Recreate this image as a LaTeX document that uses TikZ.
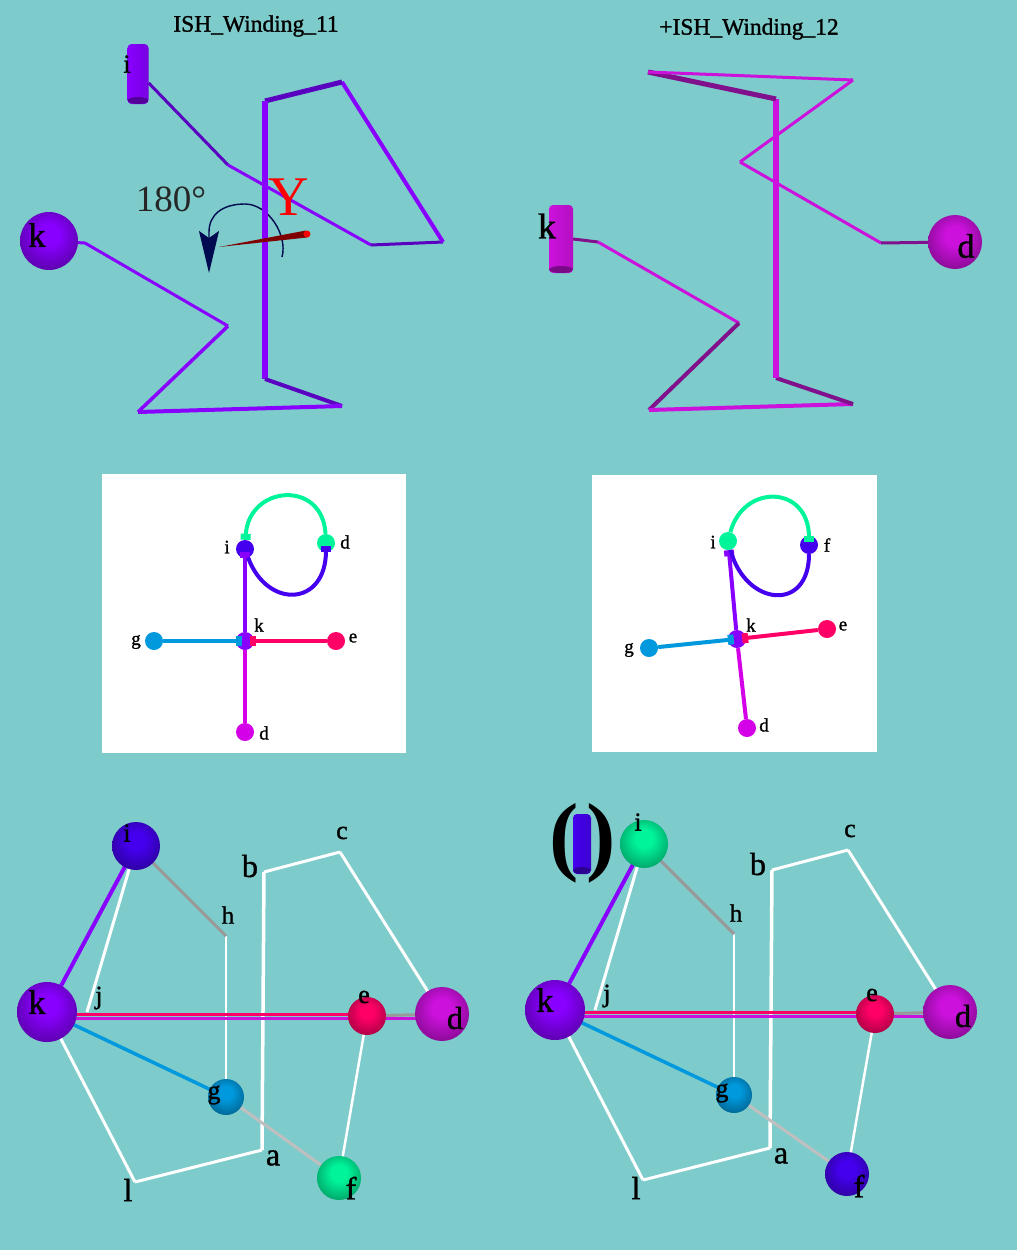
\documentclass[tikz,border=0pt]{standalone}
\usepackage{fontspec}
\setmainfont{Liberation Serif}
\newfontfamily\heavyfont[FakeBold=1.2]{Liberation Serif}
\usetikzlibrary{arrows.meta}

\definecolor{bgteal}{HTML}{7ECBCB}
\definecolor{cpurple}{HTML}{8800FF}
\definecolor{cpurpled}{HTML}{5A00C0}
\definecolor{cmagenta}{HTML}{CC11DD}
\definecolor{cmagentad}{HTML}{80108C}
\definecolor{cviolet}{HTML}{D400E8}
\definecolor{cblue}{HTML}{4400EE}
\definecolor{cgreen}{HTML}{00F59A}
\definecolor{cpink}{HTML}{FF0066}
\definecolor{csky}{HTML}{0099DD}
\definecolor{cnavy}{HTML}{000A50}

\pgfdeclarelayer{base}
\pgfdeclarelayer{wires}
\pgfsetlayers{base,wires,main}

\colorlet{sphcol}{white}
\pgfdeclareradialshading[sphcol]{sphshade}{\pgfpoint{0bp}{7bp}}{
  color(0bp)=(sphcol); color(9bp)=(sphcol);
  color(30bp)=(sphcol!66!black); color(50bp)=(sphcol!66!black)}

\tikzset{
  lab/.style={font=\heavyfont\fontsize{#1}{#1}\selectfont,inner sep=0pt},
  plainlab/.style={font=\fontsize{#1}{#1}\selectfont,inner sep=0pt},
  sph/.style={circle,inner sep=0pt,/utils/exec={\colorlet{sphcol}{#1}},shading=sphshade},
  dot/.style={circle,inner sep=0pt,minimum size=18pt,fill=#1},
  cyl/.style 2 args={rectangle,inner sep=0pt,rounded corners=4pt,minimum width=#2,
    left color=#1,right color=#1!88!black,
    path picture={\fill[#1!60!black] ([yshift=3.5pt]path picture bounding box.south)
      ellipse [x radius=#2/2,y radius=3.5pt];}},
  tip/.style={-{Rectangle[length=6pt,width=10pt]}},
  wire/.style={line width=#1,line join=round},
  wire/.default=3pt
}

\begin{document}
\begin{tikzpicture}[x=1pt,y=-1pt]
  \useasboundingbox (0,0) rectangle (1017,1250);
  \begin{pgfonlayer}{base}
    \fill[bgteal] (0,0) rectangle (1017,1250);
  \end{pgfonlayer}

  % top windings
  \node[lab=23.5] (title1) at (256,26) {ISH\_Winding\_11};
  \node[lab=23.5] (title2) at (749,29) {+ISH\_Winding\_12};

  \coordinate (rotS) at (282,257);
  \coordinate (rotE) at (209,273);
  \draw[cnavy,line width=1.4pt,-{Stealth[length=42pt,width=20pt,inset=7pt]}]
    (rotS) .. controls (288,235) and (268,204) .. (245,204)
    .. controls (222,204) and (209,215) .. (209,232) -- (rotE);

  \node[cyl={cpurple}{21pt},minimum height=60pt] (wi) at (138,74) {};
  \node[sph=cpurple,minimum size=58pt] (wk) at (49,241) {};
  \coordinate (a1) at (228,165);
  \coordinate (a2) at (371,245);
  \coordinate (a3) at (443,242);
  \coordinate (a4) at (342,82);
  \coordinate (a5) at (265,101);
  \coordinate (a6) at (265,379);
  \coordinate (a7) at (342,406);
  \coordinate (a8) at (138,412);
  \coordinate (a9) at (228,326);
  \coordinate (a10) at (85,243);
  \path[draw=cpurple,wire]
    ([yshift=-9pt]wi.east) edge[draw=cpurpled] (a1)
    (a1) edge (a2)
    (a2) edge[draw=cpurpled] (a3)
    (a3) edge[wire=4pt] (a4)
    (a4) edge[draw=cpurpled,wire=5pt] (a5)
    (a5) edge[wire=5.5pt] (a6)
    (a6) edge[draw=cpurpled,wire=4pt] (a7)
    (a7) edge[wire=4pt] (a8)
    (a8) edge[wire=3.5pt] (a9)
    (a9) edge (a10)
    (a10) edge (wk);

  \fill[red!50!black] (219,247) -- (306,230.5) -- (307,237.5) -- cycle;
  \node[circle,fill=red,inner sep=0pt,minimum size=7pt] (axisend) at (307,234) {};
  \node[plainlab=56,text=red] (ylab) at (289,197) {Y};
  \node[plainlab=37,text=black!85] (angle) at (171,199) {180°};
  \node[lab=26] (wilab) at (127,64) {i};
  \node[lab=34] (wklab) at (37,235) {k};

  \node[cyl={cmagenta}{24pt},minimum height=68pt] (vk) at (561,239) {};
  \node[sph=cmagenta,minimum size=54pt] (vd) at (955,242) {};
  \coordinate (b0) at (598,242);
  \coordinate (b1) at (739,323);
  \coordinate (b2) at (649,410);
  \coordinate (b3) at (853,404);
  \coordinate (b4) at (776,378);
  \coordinate (b5) at (776,99);
  \coordinate (b6) at (648,72);
  \coordinate (b7) at (853,80);
  \coordinate (b8) at (740,162);
  \coordinate (b9) at (881,243);
  \path[draw=cmagenta,wire]
    (vk.east) edge[draw=cmagentad] (b0)
    (b0) edge (b1)
    (b1) edge[draw=cmagentad,wire=4pt] (b2)
    (b2) edge[wire=4pt] (b3)
    (b3) edge[draw=cmagentad,wire=4pt] (b4)
    (b4) edge[wire=5.5pt] (b5)
    (b5) edge[draw=cmagentad,wire=5pt] (b6)
    (b6) edge (b7)
    (b7) edge (b8)
    (b8) edge (b9)
    (b9) edge[draw=cmagentad] (vd);
  \node[lab=36] (vklab) at (547,226) {k};
  \node[lab=34] (vdlab) at (966,246) {d};

  % flat panels
  \fill[white] (102,474) rectangle (406,753);
  \fill[white] (592,475) rectangle (877,752);

  \node[dot=cblue] (pi) at (245,549) {};
  \node[dot=cgreen] (pd1) at (326,543) {};
  \node[dot=cpurple] (pk) at (245,641) {};
  \node[dot=csky] (pg) at (154,641) {};
  \node[dot=cpink] (pe) at (336,641) {};
  \node[dot=cviolet] (pd2) at (245,732) {};
  \path[wire=4pt]
    (pk) edge[draw=cpurple,tip,shorten >=-6pt] (pi)
    (pk) edge[draw=cviolet] (pd2)
    (pe) edge[draw=cpink,tip,shorten >=-4pt] (pk)
    (pg) edge[draw=csky,tip,shorten >=-6pt] (pk)
    (pd1) edge[draw=cgreen,tip,out=93,in=87,looseness=1.75] (pi)
    (pi) edge[draw=cblue,tip,out=-70,in=-90,looseness=1.8,shorten >=-6pt] (pd1);
  \node[lab=19] (tpi) at (227,547) {i};
  \node[lab=19] (tpd1) at (345,542) {d};
  \node[lab=19] (tpk) at (259,625) {k};
  \node[lab=19] (tpg) at (136,642) {g};
  \node[lab=19] (tpe) at (353,638) {e};
  \node[lab=19] (tpd2) at (264,733) {d};

  \node[dot=cgreen] (qi) at (728,541) {};
  \node[dot=cblue] (qf) at (809,545) {};
  \node[dot=cpurple] (qk) at (737,639) {};
  \node[dot=csky] (qg) at (649,648) {};
  \node[dot=cpink] (qe) at (827,629) {};
  \node[dot=cviolet] (qd) at (747,728) {};
  \path[wire=4pt]
    (qk) edge[draw=cpurple,tip] (qi)
    (qk) edge[draw=cviolet] (qd)
    (qe) edge[draw=cpink,tip,shorten >=-4pt] (qk)
    (qg) edge[draw=csky,tip,shorten >=-6pt] (qk)
    (qi) edge[draw=cgreen,tip,out=75,in=90,looseness=1.65,shorten >=-6pt] (qf)
    (qf) edge[draw=cblue,out=-90,in=-75,looseness=1.9] (qi);
  \node[lab=19] (tqi) at (713,542) {i};
  \node[lab=19] (tqf) at (827,545) {f};
  \node[lab=19] (tqk) at (751,625) {k};
  \node[lab=19] (tqg) at (629,650) {g};
  \node[lab=19] (tqe) at (843,626) {e};
  \node[lab=19] (tqd) at (764,725) {d};

  % bottom nets, same drawing twice
  \foreach \pre/\dx/\dy/\icol/\fcol/\fx/\fy/\ilx/\ily in
    {L/0/0/cblue/cgreen/339/1178/127/833,R/508/-2/cgreen/cblue/339/1176/130/824}{
    \begin{scope}[shift={(\dx,\dy)},name prefix=\pre-]
      \coordinate (l) at (135,1182);
      \coordinate (a) at (262,1150);
      \coordinate (b) at (264,872);
      \coordinate (c) at (340,852);
      \coordinate (h) at (226,936);
      \coordinate (j) at (87,1012);
      \node[sph=\icol,minimum size=48pt] (i) at (136,846) {};
      \node[sph=cpurple,minimum size=60pt] (k) at (47,1012) {};
      \node[sph=cmagenta,minimum size=54pt] (d) at (442,1014) {};
      \node[sph=cpink,minimum size=38pt] (e) at (367,1016) {};
      \node[sph=csky,minimum size=36pt] (g) at (226,1097) {};
      \node[sph=\fcol,minimum size=44pt] (f) at (\fx,\fy) {};
      \begin{pgfonlayer}{wires}
        \path[draw=white,wire]
          (k.center) edge (l)
          (l) edge (a)
          (a) edge[wire=3.5pt] (b)
          (b) edge (c)
          (c) edge (d.center)
          (i.center) edge (j)
          (h) edge[wire=2.5pt] (g.center)
          (e.center) edge[wire=2.5pt] (f.center)
          (g.center) edge[draw=white!75!black] (f.center)
          (i.center) edge[draw=black!40] (h)
          (e.center) edge[draw=black!40] (d.center)
          (k.center) edge[draw=cpurple,wire=4pt] (i.center)
          (k.center) edge[draw=csky,wire=3.5pt] (g.center)
          ([yshift=-6pt]k.center) edge[draw=cmagenta] ([yshift=-4pt]d.center)
          ([yshift=-2pt]k.center) edge[draw=cpink] ([yshift=2pt]e.center);
      \end{pgfonlayer}
      \node[lab=26] (ti) at (\ilx,\ily) {i};
      \node[lab=25] (th) at (228,915) {h};
      \node[lab=26] (tc) at (342,833) {c};
      \node[lab=32] (tb) at (250,866) {b};
      \node[lab=26] (tj) at (99,998) {j};
      \node[lab=34] (tk) at (37,1002) {k};
      \node[lab=26] (te) at (364,997) {e};
      \node[lab=32] (td) at (455,1018) {d};
      \node[lab=26] (tg) at (214,1095) {g};
      \node[lab=32] (tf) at (\fx+12,1188) {f};
      \node[lab=32] (ta) at (273,1158) {a};
      \node[lab=32] (tl) at (128,1190) {l};
    \end{scope}
  }

  \node[plainlab=88,font=\fontsize{88}{88}\bfseries] (parL) at (564,843) {(};
  \node[plainlab=88,font=\fontsize{88}{88}\bfseries] (parR) at (601,843) {)};
  \node[cyl={cblue}{18pt},minimum height=60pt] (rodi) at (582,844) {};
\end{tikzpicture}
\end{document}
